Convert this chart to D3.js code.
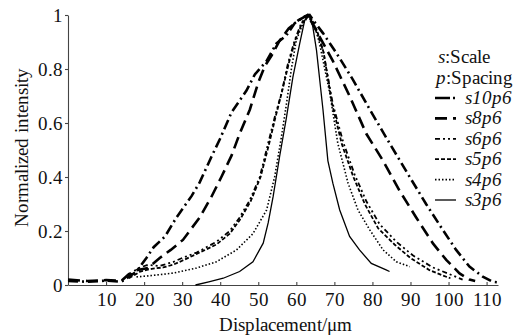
<html>
<head>
<meta charset="utf-8">
<script src="https://cdn.jsdelivr.net/npm/d3@7"></script>
<style>
  @font-face { font-family: "ChartSerif"; font-style: normal; src: local("Liberation Serif"), local("LiberationSerif"), local("Liberation Serif Regular"), local("LiberationSerif-Regular"); }
  @font-face { font-family: "ChartSerif"; font-style: italic; src: local("Liberation Serif Italic"), local("LiberationSerif-Italic"); }
</style>
</head>
<body style="margin:0">
<svg id="chart" width="532" height="336"></svg>
<script>
// ---- THE DATA ---- //
// [displacement (um), normalized intensity]
const s10p6 = [[0,0.015],[5,0.012],[10,0.016],[14,0.012],[16,0.03],[18,0.05],[20.6,0.1],[22.5,0.14],[25.5,0.18],[28.5,0.25],[32.5,0.33],[34.6,0.38],[37.7,0.475],[39.9,0.54],[43,0.64],[46.9,0.72],[49.1,0.78],[52.2,0.83],[54.8,0.895],[57.4,0.925],[59.6,0.97],[62.2,0.995],[63.5,1],[65,0.97],[67,0.933],[70.5,0.86],[74.9,0.76],[79.3,0.65],[84.5,0.525],[89.8,0.40],[94.1,0.30],[98.5,0.204],[102,0.13],[105.5,0.068],[109,0.031],[111.6,0.012],[113,0.01]];
const s8p6 = [[0,0.02],[5,0.015],[10,0.018],[14,0.015],[16,0.04],[18,0.055],[21,0.063],[24.1,0.1],[27,0.13],[30.2,0.167],[34.6,0.25],[37.7,0.327],[40.3,0.40],[43,0.48],[45.1,0.56],[47.8,0.65],[50,0.75],[51.7,0.81],[53.5,0.85],[55.6,0.905],[58,0.95],[60.5,0.98],[63,1],[66.1,0.92],[69.6,0.83],[74,0.70],[78.4,0.56],[82.8,0.46],[87.1,0.35],[91.5,0.25],[95.9,0.154],[99.4,0.093],[102.9,0.043],[105.5,0.02],[107,0.015]];
const s6p6 = [[16,0.03],[18,0.06],[21,0.075],[24,0.07],[27.6,0.085],[30,0.1],[33.8,0.12],[39,0.16],[42.5,0.2],[45.1,0.25],[47.8,0.315],[50.4,0.40],[52.6,0.525],[54.3,0.62],[56.1,0.71],[57.8,0.82],[59.6,0.907],[61.3,0.97],[63,1],[65,0.95],[67,0.87],[69.6,0.67],[72.3,0.53],[75.3,0.41],[78.4,0.31],[81.9,0.225],[86.3,0.16],[90.6,0.11],[95.9,0.065],[100.3,0.04],[103.7,0.02]];
const s5p6 = [[16,0.025],[19,0.05],[22,0.06],[25,0.065],[27.6,0.075],[30,0.09],[33.8,0.115],[39,0.15],[42.5,0.19],[45.1,0.24],[48,0.31],[50.6,0.40],[52.8,0.52],[54.5,0.62],[56.3,0.72],[58,0.82],[59.8,0.91],[61.5,0.97],[63.5,1],[65.5,0.94],[67.2,0.86],[69.4,0.67],[72,0.52],[75,0.40],[78,0.30],[81.5,0.21],[85.8,0.15],[90,0.10],[95,0.055],[98.5,0.035],[100.5,0.025]];
const s4p6 = [[18,0.03],[22,0.035],[27.6,0.044],[33.8,0.063],[39,0.086],[44.3,0.13],[48.6,0.19],[52.2,0.278],[54.3,0.40],[56.1,0.55],[57.4,0.67],[58.7,0.80],[60,0.907],[61.8,0.97],[63.5,1],[64.8,0.96],[66.1,0.895],[68.8,0.71],[70.9,0.525],[73.6,0.377],[76.2,0.278],[79.3,0.204],[82.8,0.13],[86.3,0.086],[89.8,0.068]];
const s3p6 = [[33.5,0],[37,0.012],[40.8,0.025],[45.1,0.05],[48.6,0.086],[51.3,0.155],[52.6,0.23],[53.9,0.327],[55.6,0.475],[57.4,0.62],[59.1,0.77],[60.9,0.895],[62.2,0.98],[63.3,1],[64.3,0.96],[65.3,0.87],[67,0.65],[68.3,0.46],[69.6,0.377],[71.4,0.278],[74,0.18],[76.6,0.13],[79.7,0.08],[83.6,0.056],[84.5,0.05]];

const seriesNames = ["s10p6", "s8p6", "s6p6", "s5p6", "s4p6", "s3p6"];
const seriesValues = [s10p6, s8p6, s6p6, s5p6, s4p6, s3p6];
const xTicks = [10, 20, 30, 40, 50, 60, 70, 80, 90, 100, 110];
const yTicks = [0, 0.2, 0.4, 0.6, 0.8, 1];

// line look per series (same order as seriesNames)
const styles = [
  {dash: "10,4,2,4", width: 2.6},
  {dash: "12,6", width: 2.6},
  {dash: "5,3,2,3,2,3", width: 1.8},
  {dash: "4,2", width: 1.8},
  {dash: "1.5,2", width: 1.6},
  {dash: null, width: 1.3}
];

const fontStack = "ChartSerif, 'Liberation Serif', 'Times New Roman', serif";

// ---- THE CHART ---- //
const svg = d3.select("#chart");

const xScale = d3.scaleLinear()
  .domain([0, 113])
  .range([68, 498]);
const yScale = d3.scaleLinear()
  .domain([0, 1])
  .range([285, 15]);

// x axis, ticks pointing up into the plot
const xAxis = d3.axisBottom(xScale)
  .tickValues(xTicks)
  .tickSizeInner(-3)
  .tickSizeOuter(0)
  .tickPadding(8);
const gx = svg.append("g")
  .attr("class", "x axis")
  .attr("transform", "translate(0," + yScale(0) + ")")
  .call(xAxis);

const yAxis = d3.axisLeft(yScale)
  .tickValues(yTicks)
  .tickFormat(d => d3.format("~g")(d))
  .tickSizeInner(3)
  .tickSizeOuter(0)
  .tickPadding(2);
const gy = svg.append("g")
  .attr("class", "y axis")
  .attr("transform", "translate(" + xScale(0) + ",0)")
  .call(yAxis);

// drop the sans-serif default d3 puts on axis groups
svg.selectAll(".axis").attr("font-family", null).attr("font-size", null);
svg.selectAll(".axis path, .axis line")
  .attr("stroke", "#444")
  .attr("stroke-width", 1.1);
gx.selectAll("text").attr("dy", "0.71em");

// axis titles
svg.append("text")
  .attr("x", 285)
  .attr("y", 331)
  .attr("text-anchor", "middle")
  .text("Displacement/\u03bcm");
svg.append("text")
  .attr("transform", "translate(28,147) rotate(-90)")
  .attr("text-anchor", "middle")
  .text("Normalized intensity");

// curves
const lineGen = d3.line()
  .x(d => xScale(d[0]))
  .y(d => yScale(d[1]));

svg.selectAll("path.curve")
  .data(seriesValues)
  .enter().append("path")
    .attr("class", "curve")
    .attr("d", lineGen)
    .attr("fill", "none")
    .attr("stroke", "#000")
    .attr("stroke-width", (d, i) => styles[i].width)
    .attr("stroke-dasharray", (d, i) => styles[i].dash);

// ---- THE LEGEND ---- //
const legend = svg.append("g").attr("class", "legend");

const head = legend.append("text").attr("x", 438).attr("y", 63);
head.append("tspan").style("font-style", "italic").text("s");
head.append("tspan").text(":Scale");
const head2 = legend.append("text").attr("x", 436).attr("y", 83.5);
head2.append("tspan").style("font-style", "italic").text("p");
head2.append("tspan").text(":Spacing");

const rows = legend.selectAll("g.row")
  .data(seriesNames)
  .enter().append("g")
    .attr("class", "row")
    .attr("transform", (d, i) => "translate(0," + (104 + i * 20.4) + ")");

rows.append("line")
  .attr("x1", 435)
  .attr("x2", 456)
  .attr("y1", -6)
  .attr("y2", -6)
  .attr("stroke", "#000")
  .attr("stroke-width", (d, i) => styles[i].width)
  .attr("stroke-dasharray", (d, i) => i === 0 ? "15,3,2,10" : styles[i].dash);

rows.append("text")
  .attr("x", 465)
  .style("font-style", "italic")
  .text(d => d);

// every text in the serif face, set on the element itself
svg.selectAll("text")
  .attr("font-size", 19)
  .attr("fill", "#111")
  .style("font-family", fontStack);
</script>
</body>
</html>
